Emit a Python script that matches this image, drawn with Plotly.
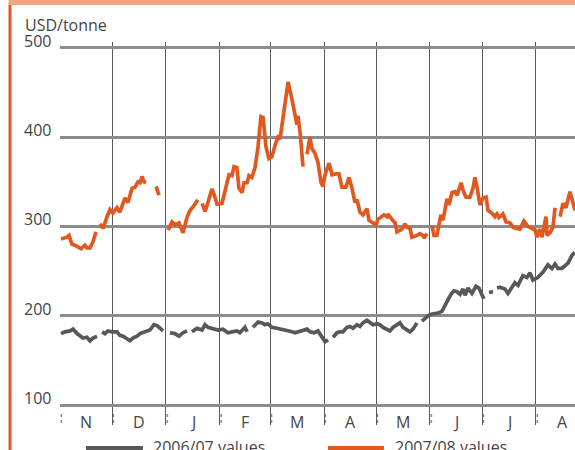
import plotly.graph_objects as go

# x values: days since 1 November (season day); None marks a break in the series
days_0708 = [0.6, 4.0, 5.2, 6.9, 8.6, 10.9, 12.1, 14.4, 15.5, 17.3, 19.0, 20.7, None,
             23.0, 24.8, 27.1, 28.8, 30.5, 32.8, 34.5, 37.4, 39.1, 41.5, 43.2, 44.9, 46.1, 47.2, 48.4, 49.5, None,
             55.3, 57.0, None,
             62.2, 64.5, 66.2, 68.5, 70.8, 73.1, 74.8, 76.6, 79.4, None,
             81.8, 83.5, 85.2, 87.5, 89.2, 90.4, 93.3, 95.0, 97.3, 99.0, 100.2, 101.9, 103.0, 104.8, 105.9,
             107.7, 108.8, 110.5, 112.3, 114.0, 115.7, 116.9, 118.6, 120.3, 122.0, 123.8, 125.5, 126.7, 128.4,
             131.3, 133.6, 135.3, 136.4, 137.0, 138.2, 139.9, None,
             142.2, 143.9, 145.1, 146.8, 148.5, 150.3, 151.4, 152.6, 154.9, 156.6, 158.9, 160.6, 162.3, 164.6,
             166.4, 168.1, 169.8, 171.0, 172.7, 174.4, 176.7, 177.9, 180.2, 181.9, 183.1, 185.4, 186.5, 188.3,
             188.8, 191.1, 192.9, 194.0, 196.9, 198.6, 199.8, 201.5, 202.6, 205.5, 207.3, 209.0, 209.6, 211.3, None,
             214.2, 215.3, 217.0, 219.3, 220.5, 222.8, 223.9, 225.7, 227.4, 228.6, 230.9, 232.0, 233.7, 236.0,
             237.8, 238.9, 240.1, 241.8, 243.5, 245.3, 246.4, 248.7, 250.4, 251.6, 252.7, 255.0, 256.8, 259.1,
             260.8, 263.1, 264.8, 267.1, 269.4, 271.7, 273.5, 274.6, 276.3, 277.5, 278.6, 279.8, 280.4, 282.1,
             283.8, 285.0, None,
             287.9, 289.6, 291.3, 293.6, 295.3, 296.5]
values_0708 = [286, 288, 290, 280, 279, 277, 275, 279, 276, 276, 283, 294, None,
               303, 298, 311, 319, 315, 321, 316, 332, 327, 343, 344, 350, 349, 356, 350, 349, None,
               345, 335, None,
               296, 305, 302, 304, 293, 310, 318, 322, 330, None,
               326, 317, 327, 342, 333, 325, 326, 339, 358, 357, 367, 366, 343, 338, 349,
               349, 357, 355, 366, 389, 423, 422, 389, 376, 378, 391, 400, 398, 423,
               462, 442, 422, 414, 424, 406, 367, None,
               381, 400, 387, 382, 372, 349, 345, 358, 371, 358, 359, 359, 344, 344,
               355, 343, 327, 330, 316, 313, 320, 307, 304, 302, 308, 311, 313, 311,
               314, 308, 304, 294, 297, 303, 299, 298, 288, 290, 292, 290, 287, 292, None,
               301, 290, 290, 313, 307, 331, 324, 338, 339, 335, 349, 341, 333, 333,
               343, 355, 344, 324, 332, 333, 318, 315, 311, 314, 310, 314, 305, 304,
               299, 298, 297, 306, 300, 298, 296, 288, 297, 288, 301, 311, 290, 293,
               299, 321, None,
               311, 326, 321, 339, 327, 318]

days_0607 = [0.6, 2.9, 5.8, 7.5, 9.8, 11.5, 13.2, 15.5, 17.3, 19.0, 21.3, None,
             24.2, 25.9, 27.6, 29.9, 32.8, 34.5, 36.3, 38.6, 40.3, 42.0, 44.3, 46.1, 47.8, 50.1, 51.8, 54.1,
             55.8, 57.6, 59.3, None,
             63.3, 66.2, 68.5, 70.8, 73.1, None,
             76.0, 78.9, 81.8, 83.5, 85.2, 88.1, 91.0, 93.8, 96.7, 99.0, 101.9, 103.6, 105.4, 106.5, 107.7, None,
             111.1, 114.0, 116.3, 118.0, 119.7, 122.0, 124.9, 127.8, 130.7, 133.6, 135.3, 137.0, 139.9, 142.2,
             143.9, 146.2, 148.5, 150.8, 152.6, 154.3, None,
             157.2, 159.5, 161.2, 162.9, 165.2, 167.0, 168.7, 171.0, 172.7, 174.4, 176.7, 178.5, 180.2, 182.5,
             184.2, 186.0, 188.3, 190.0, 191.7, 194.0, 195.7, 197.5, 199.8, 201.5, 203.2, 205.5, None,
             208.4, 210.1, 211.9, 214.2, 215.9, 217.6, 219.9, 221.6, 223.4, 225.1, 226.8, 228.6, 230.3, 232.0,
             233.2, 234.9, 237.2, 239.5, 241.2, 243.0, 244.1, None,
             247.0, 249.3, None,
             251.6, 253.3, 256.2, 257.9, 260.2, 261.9, 263.7, 266.5, 268.8, 270.6, 272.3, 275.2, 278.1, 279.2,
             280.9, 283.2, 285.0, 286.7, 289.0, 291.3, 292.5, 294.8, 296.5]
values_0607 = [180, 182, 183, 185, 180, 178, 175, 176, 172, 175, 177, None,
               182, 180, 183, 182, 182, 178, 177, 174, 172, 175, 177, 180, 181, 182, 184, 190,
               189, 186, 183, None,
               181, 180, 177, 181, 183, None,
               182, 186, 184, 190, 187, 186, 184, 185, 181, 182, 183, 181, 185, 187, 182, None,
               187, 193, 192, 190, 191, 187, 186, 185, 183, 182, 181, 182, 183, 185,
               182, 181, 183, 176, 171, 173, None,
               176, 181, 182, 182, 187, 188, 186, 190, 188, 192, 195, 193, 190, 191,
               190, 187, 184, 183, 187, 190, 192, 187, 184, 182, 185, 192, None,
               194, 197, 200, 202, 202, 203, 205, 212, 218, 224, 228, 227, 224, 230,
               223, 231, 225, 233, 231, 223, 219, None,
               226, 227, None,
               231, 232, 230, 225, 232, 237, 234, 245, 243, 248, 240, 243, 249, 252,
               257, 253, 258, 253, 253, 257, 259, 268, 271]

month_starts = [0, 30, 61, 92, 121, 152, 182, 213, 243, 274]
month_mid = [15, 45.5, 76.5, 106.5, 136.5, 167, 197.5, 228, 258.5, 289.5]
month_labels = ["N", "D", "J", "F", "M", "A", "M", "J", "J", "A"]
y_ticks = [100, 200, 300, 400, 500]
y_title = "USD/tonne"
series_names = ["2006/07 values", "2007/08 values"]

GRAY = "rgb(88,88,88)"
ORANGE = "rgb(226,88,30)"
FONT = "Open Sans"
TXT = "#444444"

fig = go.Figure()
fig.add_trace(go.Scatter(x=days_0607, y=values_0607, mode="lines", name=series_names[0],
                         line=dict(color=GRAY, width=3.7), connectgaps=False))
fig.add_trace(go.Scatter(x=days_0708, y=values_0708, mode="lines", name=series_names[1],
                         line=dict(color=ORANGE, width=3.7), connectgaps=False))

shapes = []
# dotted tick marks under the axis
for b in month_starts:
    shapes.append(dict(type="line", xref="x", yref="y", x0=b + 0.8, x1=b + 0.8, y0=90, y1=78,
                       line=dict(color="#888", width=1.5, dash="dot"), layer="below"))
# left orange rule and top band
shapes.append(dict(type="line", xref="paper", yref="paper", x0=-0.0971, x1=-0.0971, y0=1.097, y1=-0.1,
                   line=dict(color=ORANGE, width=3)))
shapes.append(dict(type="rect", xref="paper", yref="paper", x0=-0.1, x1=1.0, y0=1.0966, y1=1.12,
                   line=dict(width=0), fillcolor="rgb(240,166,130)"))
# legend swatches
shapes.append(dict(type="line", xref="paper", yref="paper", x0=0.0505, x1=0.161, y0=-0.060, y1=-0.060,
                   line=dict(color=GRAY, width=4)))
shapes.append(dict(type="line", xref="paper", yref="paper", x0=0.5204, x1=0.629, y0=-0.060, y1=-0.060,
                   line=dict(color=ORANGE, width=4)))

annotations = []
for v in y_ticks:
    annotations.append(dict(xref="paper", yref="y", x=0, y=v, text=str(v), showarrow=False,
                            xanchor="right", yanchor="middle", xshift=-7, yshift=7,
                            font=dict(family=FONT, size=16, color=TXT)))
for xm, lab in zip(month_mid, month_labels):
    annotations.append(dict(xref="x", yref="y", x=xm, y=81, text=lab, showarrow=False,
                            xanchor="center", yanchor="middle",
                            font=dict(family=FONT, size=16, color=TXT)))
annotations.append(dict(xref="paper", yref="paper", x=-0.0718, y=1.0444, text=y_title, showarrow=False,
                        xanchor="left", yanchor="middle", font=dict(family=FONT, size=16, color=TXT)))
annotations.append(dict(xref="paper", yref="paper", x=0.1767, y=-0.0574, text=series_names[0], showarrow=False,
                        xanchor="left", yanchor="middle", font=dict(family=FONT, size=16, color=TXT)))
annotations.append(dict(xref="paper", yref="paper", x=0.6465, y=-0.0574, text=series_names[1], showarrow=False,
                        xanchor="left", yanchor="middle", font=dict(family=FONT, size=16, color=TXT)))

fig.update_layout(
    width=575, height=450,
    margin=dict(l=60, r=0, t=42, b=25),
    paper_bgcolor="white", plot_bgcolor="white",
    showlegend=False,
    shapes=shapes, annotations=annotations,
    xaxis=dict(range=[0, 296.5], tickvals=month_starts[1:], showticklabels=False, ticks="",
               showgrid=True, gridcolor="#5a5a5a", gridwidth=1.4, zeroline=False, showline=False),
    yaxis=dict(range=[77.6, 506.7], tickvals=y_ticks, showticklabels=False, ticks="",
               showgrid=True, gridcolor="#8c8c8c", gridwidth=3, zeroline=False, showline=False),
    font=dict(family=FONT),
)

fig.write_html("out.html", config={"displayModeBar": False},
               post_script="document.body.style.margin='0';document.body.style.overflow='hidden';")
